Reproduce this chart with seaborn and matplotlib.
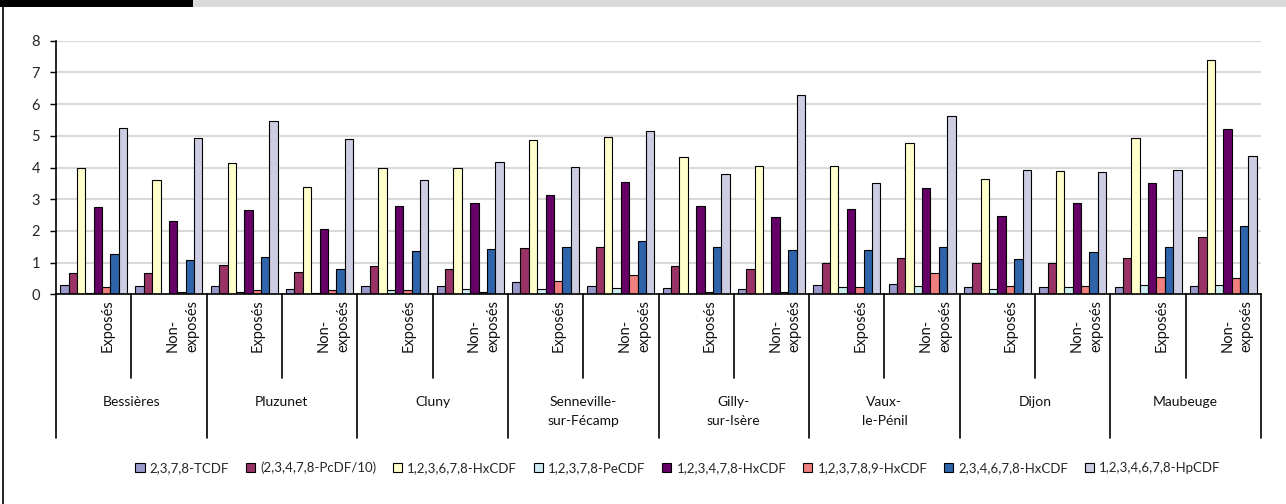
import matplotlib
matplotlib.use("Agg")
import matplotlib.pyplot as plt
from matplotlib.patches import Rectangle
from matplotlib.lines import Line2D
import seaborn as sns
import pandas as pd

# ---------------- data ----------------
sites = ["Bessières", "Pluzunet", "Cluny", "Senneville-\nsur-Fécamp",
         "Gilly-\nsur-Isère", "Vaux-\nle-Pénil", "Dijon", "Maubeuge"]
exposures = ["Exposés", "Non-\nexposés"]

congeners = ["2,3,7,8-TCDF", "(2,3,4,7,8-PcDF/10)", "1,2,3,6,7,8-HxCDF",
             "1,2,3,7,8-PeCDF", "1,2,3,4,7,8-HxCDF", "1,2,3,7,8,9-HxCDF",
             "2,3,4,6,7,8-HxCDF", "1,2,3,4,6,7,8-HpCDF"]

tcdf = [0.29, 0.26, 0.26, 0.18, 0.27, 0.27, 0.39, 0.26, 0.19, 0.17, 0.28, 0.32, 0.23, 0.22, 0.24, 0.27]
pcdf_10 = [0.68, 0.66, 0.91, 0.69, 0.88, 0.81, 1.46, 1.48, 0.90, 0.81, 0.99, 1.13, 0.98, 0.99, 1.16, 1.80]
hxcdf_123678 = [3.97, 3.61, 4.15, 3.38, 3.97, 4.00, 4.88, 4.95, 4.34, 4.04, 4.04, 4.76, 3.64, 3.88, 4.92, 7.38]
pecdf_12378 = [0.04, 0.02, 0.08, 0.03, 0.12, 0.18, 0.17, 0.19, 0.02, 0.01, 0.23, 0.25, 0.17, 0.22, 0.29, 0.28]
hxcdf_123478 = [2.74, 2.31, 2.65, 2.06, 2.77, 2.89, 3.12, 3.55, 2.78, 2.44, 2.70, 3.35, 2.46, 2.87, 3.52, 5.22]
hxcdf_123789 = [0.22, 0.08, 0.12, 0.15, 0.13, 0.06, 0.42, 0.60, 0.06, 0.07, 0.22, 0.67, 0.27, 0.27, 0.56, 0.50]
hxcdf_234678 = [1.28, 1.07, 1.17, 0.81, 1.38, 1.42, 1.50, 1.69, 1.50, 1.40, 1.39, 1.48, 1.10, 1.32, 1.49, 2.17]
hpcdf = [5.26, 4.93, 5.48, 4.91, 3.61, 4.18, 4.03, 5.16, 3.79, 6.28, 3.52, 5.64, 3.93, 3.87, 3.91, 4.36]

y_ticks = [0, 1, 2, 3, 4, 5, 6, 7, 8]

colors = ["#9999cc", "#993366", "#ffffcc", "#ccecf2",
          "#660066", "#f08080", "#2f63aa", "#ccccE2"]

series = [tcdf, pcdf_10, hxcdf_123678, pecdf_12378,
          hxcdf_123478, hxcdf_123789, hxcdf_234678, hpcdf]

groups = [f"{s}|{e}" for s in sites for e in exposures]
rows = []
for cname, vals in zip(congeners, series):
    for g, v in zip(groups, vals):
        rows.append({"group": g, "congener": cname, "value": v})
df = pd.DataFrame(rows)

# ---------------- style ----------------
sns.set_theme(style="white")
plt.rcParams["font.family"] = ["Lato", "DejaVu Sans"]

W, H = 1286, 504
fig = plt.figure(figsize=(W / 100, H / 100), dpi=100)
fig.patch.set_facecolor("white")

x0, x1 = 56, 1261
y_top, y_zero = 40.7, 294.3
ax = fig.add_axes([x0 / W, 1 - y_zero / H, (x1 - x0) / W, (y_zero - y_top) / H])

sns.barplot(data=df, x="group", y="value", hue="congener", order=groups,
            hue_order=congeners, palette=colors, width=0.89, saturation=1,
            edgecolor="black", linewidth=0.8, errorbar=None, ax=ax)

handles, labels = ax.get_legend_handles_labels()
if ax.legend_ is not None:
    ax.legend_.remove()

ax.set_xlim(-0.5, len(groups) - 0.5)
ax.set_ylim(0, 8)
ax.set_yticks(y_ticks)
ax.set_yticklabels([str(t) for t in y_ticks], fontsize=10.5)
ax.set_xticks([])
ax.set_xlabel("")
ax.set_ylabel("")
ax.yaxis.grid(True, color="#d9d9d9", lw=1.5)
ax.set_axisbelow(True)
ax.tick_params(axis="y", direction="out", length=4.5, width=1, color="black",
               pad=7, left=True)
for s in ["top", "right"]:
    ax.spines[s].set_visible(False)
for s in ["left", "bottom"]:
    ax.spines[s].set_color("black")
    ax.spines[s].set_linewidth(1.2)

ah = y_zero - y_top


def ax_y(ypix):
    return (y_zero - ypix) / ah


tr = ax.get_xaxis_transform()
# site dividers
for k in range(len(sites) + 1):
    xx = 2 * k - 0.5
    ax.add_line(Line2D([xx, xx], [0, ax_y(438)], transform=tr, color="black",
                       lw=1.2, clip_on=False))
# exposure dividers
for k in range(len(sites)):
    xx = 2 * k + 0.5
    ax.add_line(Line2D([xx, xx], [0, ax_y(378)], transform=tr, color="black",
                       lw=1.2, clip_on=False))

# exposure labels
for i, g in enumerate(groups):
    e = g.split("|")[1]
    ax.text(i + 0.18, ax_y(352), e, transform=tr, rotation=90, ha="center",
            va="bottom", multialignment="left", fontsize=10.5, linespacing=1.5,
            color="#111111", clip_on=False)

# site labels
for k, s in enumerate(sites):
    ax.text(2 * k + 0.5, ax_y(396), s, transform=tr, ha="center", va="top",
            fontsize=10, linespacing=1.7, color="#111111", clip_on=False)

# legend
leg = fig.legend(handles, labels, loc="center", bbox_to_anchor=(678 / W, 1 - 468 / H),
                 ncol=8, frameon=False, fontsize=9.5, handlelength=0.7,
                 handleheight=0.7, handletextpad=0.4, columnspacing=1.25)

# decorative top bar and left frame line
fig.patches.append(Rectangle((0, 1 - 7 / H), 193 / W, 7 / H, transform=fig.transFigure,
                             facecolor="black", edgecolor="none"))
fig.patches.append(Rectangle((193 / W, 1 - 7 / H), 1 - 193 / W, 7 / H,
                             transform=fig.transFigure, facecolor="#d9d9d9",
                             edgecolor="none"))
fig.add_artist(Line2D([3.3 / W, 3.3 / W], [0, 1 - 7 / H], transform=fig.transFigure,
                      color="black", lw=1.2))

fig.savefig("out.png", dpi=100)
